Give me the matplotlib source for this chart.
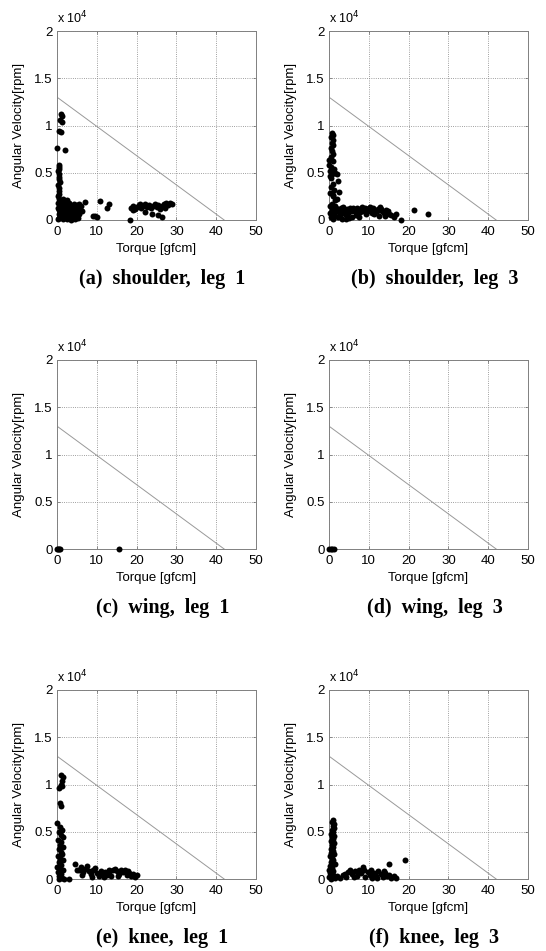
import matplotlib
matplotlib.use("Agg")
import matplotlib.pyplot as plt

# motor limit line (torque [gfcm], speed [rpm])
limit_torque = [0, 42]
limit_speed = [13000, 0]

# (a) shoulder, leg 1
shoulder1_torque = [
    0.9, 1.3, 0.7, 1.2, 0.4, 0.9, 0.1, 1.9, 0.4, 0.6,
    0.5, 0.3, 0.6, 0.4, 0.5, 0.7, 0.3, 0.5, 0.6, 0.4,
    0.2, 0.5, 0.7, 0.3, 0.8, 1.2, 1.5, 0.5, 1.0, 0.2,
    1.8, 2.2, 2.5, 2.0, 2.8, 3.0, 3.3, 3.5, 3.8, 4.0,
    4.2, 4.5, 4.8, 5.0, 5.3, 5.5, 5.8, 6.0, 1.5, 2.4,
    3.0, 4.3, 1.0, 0.6, 2.6, 3.6, 4.6, 5.2, 1.3, 3.2,
    2.0, 4.0, 5.6, 7.0, 9.0, 9.6, 10.8, 12.5, 13.0, 10.0,
    18.3, 18.5, 19.0, 19.5, 20.0, 20.5, 21.0, 21.5, 22.0, 22.5,
    23.0, 23.5, 24.0, 24.5, 25.0, 25.5, 26.0, 26.5, 27.0, 27.5,
    28.0, 28.5, 29.0, 22.0, 23.8, 25.5, 26.3, 20.8, 27.2, 19.2,
    0.5, 1.5, 2.3, 1.0, 0.8, 2.8, 3.8, 1.7, 0.3, 4.9,
    1.2, 2.6, 3.4, 4.4, 5.4, 6.3, 1.9, 3.9, 2.1, 4.7,
]
shoulder1_speed = [
    11200, 11000, 10600, 10400, 9400, 9300, 7600, 7400, 5800, 5600,
    5400, 5200, 4900, 4600, 4300, 4000, 3700, 3400, 3100, 2800,
    2500, 2200, 2000, 1800, 1500, 1200, 900, 600, 300, 100,
    2000, 1600, 1200, 800, 500, 200, 1400, 1000, 1500, 700,
    300, 1200, 900, 1600, 1300, 600, 1100, 1500, 2200, 2100,
    1800, 1700, 1900, 1100, 100, 50, 100, 200, 600, 700,
    1400, 1100, 1700, 1900, 400, 450, 2000, 1300, 1700, 300,
    0, 1300, 1500, 1200, 1400, 1600, 1300, 1500, 1700, 1400,
    1600, 1300, 1500, 1700, 1400, 1600, 1200, 1500, 1700, 1800,
    1600, 1800, 1700, 800, 600, 500, 300, 1700, 1300, 1100,
    200, 100, 300, 1000, 700, 1000, 400, 1500, 1300, 300,
    400, 700, 1100, 500, 800, 1000, 1100, 200, 500, 1400,
]

# (b) shoulder, leg 3
shoulder3_torque = [
    0.8, 1.0, 0.6, 0.9, 0.7, 1.1, 0.5, 0.8, 1.0, 0.6,
    0.1, 0.0, 0.9, 0.4, 1.2, 0.3, 1.5, 0.8, 1.9, 0.2,
    0.6, 2.2, 2.4, 1.0, 2.0, 0.5, 1.3, 0.3, 0.9, 1.6,
    0.2, 0.7, 1.2, 1.8, 2.3, 2.9, 3.4, 3.9, 4.5, 5.0,
    5.6, 6.1, 6.7, 7.2, 7.8, 8.3, 8.9, 9.4, 10.0, 10.5,
    11.1, 11.6, 12.2, 12.7, 13.3, 13.8, 14.4, 15.0, 15.6, 16.3,
    0.4, 1.0, 1.6, 2.6, 3.2, 4.2, 4.8, 6.4, 7.5, 9.0,
    10.8, 12.0, 13.0, 14.0, 16.8, 18.2, 21.4, 24.8, 5.3, 8.6,
    0.3, 1.4, 2.0, 3.0, 3.7, 4.4, 5.9, 7.0, 8.1, 9.7,
    11.4, 12.6, 0.7, 1.1, 2.7, 6.9, 10.3, 14.8,
]
shoulder3_speed = [
    9200, 9000, 8800, 8500, 8200, 7900, 7600, 7300, 7000, 6700,
    6400, 5800, 6200, 5600, 5400, 5200, 5000, 4900, 4900, 4700,
    4400, 4100, 3000, 3800, 2200, 3500, 3200, 2900, 2500, 2100,
    1500, 1100, 700, 1300, 300, 1000, 1400, 600, 1200, 200,
    900, 1300, 500, 1200, 800, 1400, 1000, 600, 1300, 1100,
    1300, 800, 1200, 1400, 900, 700, 1100, 600, 500, 300,
    300, 100, 400, 800, 100, 100, 700, 1000, 300, 1300,
    700, 1000, 1200, 400, 600, 30, 1100, 600, 1300, 1200,
    700, 1500, 1100, 1300, 900, 600, 300, 1300, 1000, 900,
    600, 400, 1700, 2600, 500, 900, 1400, 1000,
]

# (c) wing, leg 1
wing1_torque = [0.0, 0.4, 0.8, 0.2, 15.5]
wing1_speed = [0, 0, 0, 0, 0]

# (d) wing, leg 3
wing3_torque = [0.0, 0.4, 0.8, 1.2]
wing3_speed = [0, 0, 0, 0]

# (e) knee, leg 1
knee1_torque = [
    1.0, 1.5, 1.3, 1.1, 0.6, 1.3, 0.8, 0.9, 0.0,
    0.8, 1.2, 0.6, 1.0, 1.4, 0.3, 1.1, 0.7, 1.5, 0.4,
    0.9, 1.3, 0.2, 0.8, 1.6, 0.5, 1.1, 0.0, 0.7, 1.4,
    0.3, 1.0, 0.6, 1.2, 1.8, 3.0, 0.5,
    4.5, 5.0, 5.6, 6.1, 6.6, 7.1, 7.6, 8.1, 8.6, 9.1,
    9.6, 10.1, 10.6, 11.1, 11.6, 12.1, 12.6, 13.1, 13.6, 14.1,
    14.6, 15.1, 15.6, 16.1, 16.6, 17.1, 17.6, 18.1, 18.6, 19.1,
    19.6, 20.1, 6.3, 8.9, 11.9, 15.3, 17.9, 13.0,
]
knee1_speed = [
    11000, 10800, 10400, 10000, 9600, 9800, 8000, 7700, 5900,
    5500, 5200, 5000, 4700, 4400, 4100, 3900, 3600, 3400, 3200,
    2900, 2600, 2400, 2200, 2000, 1800, 1500, 1300, 1100, 900,
    700, 500, 300, 100, 0, 0, 0,
    1600, 1000, 900, 1300, 700, 1100, 1400, 800, 500, 1000,
    1200, 600, 300, 800, 500, 700, 400, 600, 300, 900,
    1100, 800, 500, 1000, 700, 900, 400, 600, 300, 500,
    200, 400, 400, 200, 200, 300, 800, 1000,
]

# (f) knee, leg 3
knee3_torque = [
    1.0, 0.8, 1.2, 0.9, 1.3, 0.7, 1.1, 0.6, 1.2, 0.8,
    1.0, 0.5, 1.3, 0.7, 0.9, 0.4, 1.1, 0.6, 1.2, 0.3,
    0.8, 1.0, 0.5, 1.4, 0.2, 0.7, 0.0, 1.1,
    0.3, 0.9, 0.0, 1.4, 0.6,
    2.0, 2.8, 3.5, 4.2, 4.8, 5.3, 5.9, 6.5, 7.0, 7.6,
    8.1, 8.6, 9.1, 9.7, 10.2, 10.8, 11.3, 11.9, 12.4, 13.0,
    13.5, 14.1, 14.6, 15.2, 15.7, 16.3, 16.8, 15.0, 19.0, 6.2,
    8.9, 12.0, 4.0, 10.5, 13.8, 7.3,
]
knee3_speed = [
    6200, 6000, 5800, 5600, 5400, 5200, 5000, 4800, 4600, 4400,
    4200, 4000, 3800, 3600, 3400, 3200, 3000, 2800, 2600, 2400,
    2200, 2000, 1800, 1600, 1400, 1200, 1000, 800,
    600, 400, 200, 100, 0,
    300, 100, 400, 200, 700, 900, 500, 800, 300, 1000,
    600, 1300, 200, 700, 400, 100, 600, 300, 800, 500,
    200, 600, 300, 400, 100, 300, 100, 1600, 2000, 200,
    900, 100, 500, 1000, 800, 600,
]

captions = [
    "(a)  shoulder,  leg  1", "(b)  shoulder,  leg  3",
    "(c)  wing,  leg  1", "(d)  wing,  leg  3",
    "(e)  knee,  leg  1", "(f)  knee,  leg  3",
]
x_ticks = [0, 10, 20, 30, 40, 50]
y_ticks = [0, 5000, 10000, 15000, 20000]
y_tick_labels = ["0", "0.5", "1", "1.5", "2"]

series = [
    (shoulder1_torque, shoulder1_speed), (shoulder3_torque, shoulder3_speed),
    (wing1_torque, wing1_speed), (wing3_torque, wing3_speed),
    (knee1_torque, knee1_speed), (knee3_torque, knee3_speed),
]

W, H = 546, 951
col_left = [57, 329]
col_width = 199
row_top = [31, 360, 690]
row_height = 189

plt.rcParams["font.family"] = ["Liberation Sans", "DejaVu Sans"]

fig = plt.figure(figsize=(W / 100, H / 100), dpi=100)

for i, ((tq, sp), cap) in enumerate(zip(series, captions)):
    r, c = divmod(i, 2)
    left = col_left[c] / W
    bottom = 1 - (row_top[r] + row_height) / H
    ax = fig.add_axes([left, bottom, col_width / W, row_height / H])

    ax.plot(limit_torque, limit_speed, color="0.6", linewidth=0.7)
    # markers at the axis limits are drawn whole, as in the original figure
    ax.plot(tq, sp, "o", color="black", markersize=4.3, markeredgewidth=0,
            clip_on=False, zorder=3)

    ax.set_xlim(0, 50)
    ax.set_ylim(0, 20000)
    ax.set_xticks(x_ticks)
    ax.set_yticks(y_ticks)
    ax.set_yticklabels(y_tick_labels)
    ax.tick_params(direction="in", length=2, width=0.5, color="0.4",
                   labelsize=9.5, top=True, right=True)
    ax.tick_params(axis="x", pad=4)
    ax.tick_params(axis="y", pad=3)
    ax.grid(True, linestyle=":", color="0.5", linewidth=0.6)
    for s in ax.spines.values():
        s.set_color("0.5")
        s.set_linewidth(0.7)

    ax.set_xlabel("Torque [gfcm]", fontsize=9.5, labelpad=4)
    ax.set_ylabel("Angular Velocity[rpm]", fontsize=9.5, labelpad=7)
    ax.text(0.0, 1.025, r"x 10$^4$", transform=ax.transAxes,
            ha="left", va="bottom", fontsize=9)

    ax.text(0.53, -0.31, cap, transform=ax.transAxes, ha="center", va="center",
            fontsize=14.5, fontweight="bold",
            family=["Liberation Serif", "DejaVu Serif"])

fig.savefig("out.png", dpi=100)
